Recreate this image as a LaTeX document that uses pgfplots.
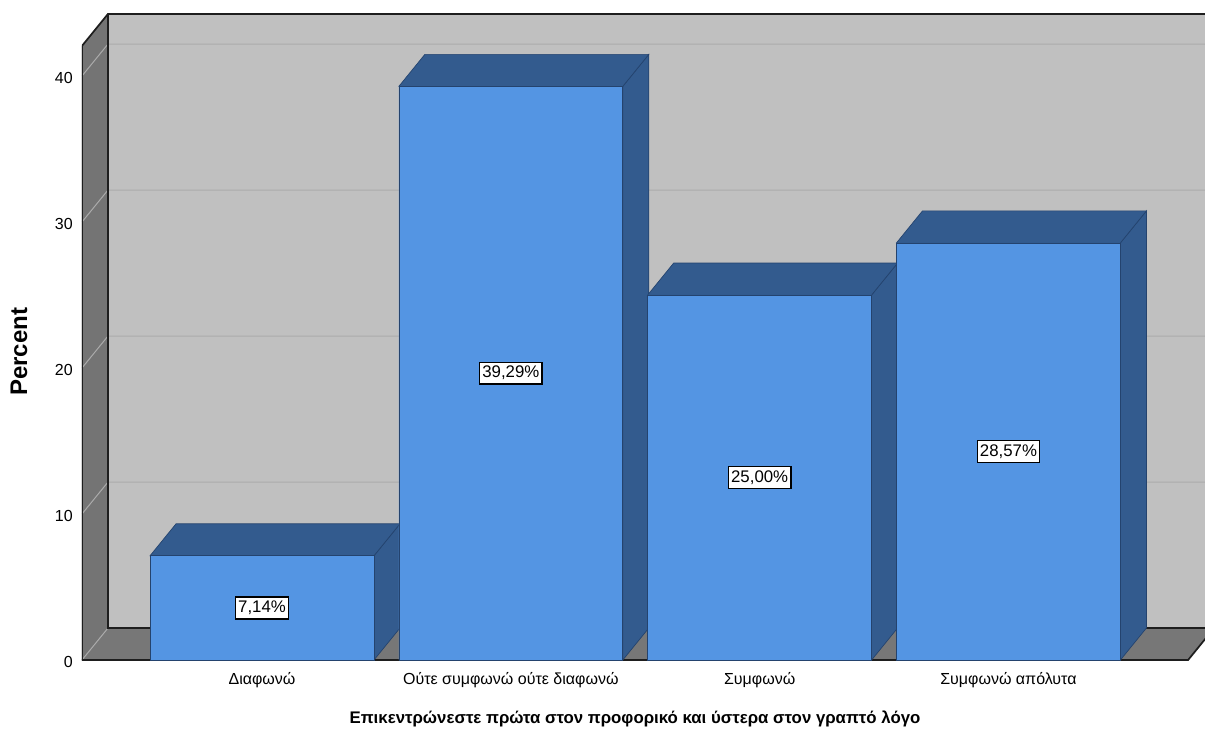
\documentclass[border=0pt]{standalone}
\usepackage{pgfplots}
\pgfplotsset{compat=1.18}
\usepackage{fontspec}
\setmainfont{Liberation Sans}
\definecolor{backwall}{HTML}{C0C0C0}
\definecolor{sidewall}{HTML}{747474}
\definecolor{floorc}{HTML}{777777}
\definecolor{barfront}{HTML}{5495E3}
\definecolor{bardark}{HTML}{335B8E}
\definecolor{baredge}{HTML}{24436E}
\definecolor{gridc}{HTML}{ABABAB}
\definecolor{edgec}{HTML}{1E1E1E}
\begin{document}
\begin{tikzpicture}
\begin{axis}[
  scale only axis,
  width=842.25pt, height=495pt,
  xmin=0.2765, xmax=4.790,
  ymin=0, ymax=45.205,
  axis lines*=left,
  axis line style={draw=none},
  tick style={draw=none},
  /pgf/number format/assume math mode=true,
  xtick={1,2,3,4},
  xticklabels={Διαφωνώ, Ούτε συμφωνώ ούτε διαφωνώ, Συμφωνώ, Συμφωνώ απόλυτα},
  ytick={0,10,20,30,40},
  xticklabel style={anchor=base, inner sep=0pt, yshift=-18pt, font=\fontsize{12}{14}\selectfont},
  yticklabel style={anchor=east, inner sep=0pt, xshift=-6.75pt, yshift=-1.5pt, font=\fontsize{12}{14}\selectfont},
  ylabel={Percent},
  every axis y label/.style={at={(axis description cs:-0.0561,0.4667)}, anchor=center, rotate=90, font=\fontsize{18}{20}\selectfont\bfseries},
  xlabel={Επικεντρώνεστε πρώτα στον προφορικό και ύστερα στον γραπτό λόγο},
  every axis x label/.style={at={(axis description cs:0.4924,-0.0955)}, anchor=base, font=\fontsize{12.6}{14}\selectfont\bfseries},
]
\coordinate (O) at (axis cs:0.2765,0);
% walls and floor
\addplot[fill=backwall, draw=none] coordinates {(0.381,2.19) (4.95,2.19) (4.95,44.25) (0.381,44.25)} -- cycle;
\addplot[fill=floorc, draw=none] coordinates {(0.2765,0) (4.722,0) (4.8265,2.19) (0.381,2.19)} -- cycle;
\addplot[fill=sidewall, draw=none] coordinates {(0.2765,0) (0.381,2.19) (0.381,44.25) (0.2765,42.06)} -- cycle;
% grid lines
\addplot[gridc, line width=0.75pt] coordinates {(0.2765,0) (0.381,2.19)};
\addplot[gridc, line width=0.75pt] coordinates {(0.2765,10) (0.381,12.19) (4.95,12.19)};
\addplot[gridc, line width=0.75pt] coordinates {(0.2765,20) (0.381,22.19) (4.95,22.19)};
\addplot[gridc, line width=0.75pt] coordinates {(0.2765,30) (0.381,32.19) (4.95,32.19)};
\addplot[gridc, line width=0.75pt] coordinates {(0.2765,40) (0.381,42.19) (4.95,42.19)};
% edges
\addplot[edgec, line width=1.3pt] coordinates {(0.2765,0) (0.2765,42.06) (0.381,44.25) (4.95,44.25)};
\addplot[edgec, line width=1.3pt] coordinates {(0.381,44.25) (0.381,2.19) (4.95,2.19)};
\addplot[edgec, line width=1.3pt] coordinates {(0.2765,0) (4.722,0) (4.8265,2.19)};
% bar sides and tops
\addplot[fill=bardark, draw=baredge, line width=0.5pt] coordinates {(1.45,0) (1.5545,2.19) (1.5545,9.33) (1.45,7.14)} -- cycle;
\addplot[fill=bardark, draw=baredge, line width=0.5pt] coordinates {(0.55,7.14) (0.6545,9.33) (1.5545,9.33) (1.45,7.14)} -- cycle;
\addplot[fill=bardark, draw=baredge, line width=0.5pt] coordinates {(2.45,0) (2.5545,2.19) (2.5545,41.48) (2.45,39.29)} -- cycle;
\addplot[fill=bardark, draw=baredge, line width=0.5pt] coordinates {(1.55,39.29) (1.6545,41.48) (2.5545,41.48) (2.45,39.29)} -- cycle;
\addplot[fill=bardark, draw=baredge, line width=0.5pt] coordinates {(3.45,0) (3.5545,2.19) (3.5545,27.19) (3.45,25.00)} -- cycle;
\addplot[fill=bardark, draw=baredge, line width=0.5pt] coordinates {(2.55,25.00) (2.6545,27.19) (3.5545,27.19) (3.45,25.00)} -- cycle;
\addplot[fill=bardark, draw=baredge, line width=0.5pt] coordinates {(4.45,0) (4.5545,2.19) (4.5545,30.76) (4.45,28.57)} -- cycle;
\addplot[fill=bardark, draw=baredge, line width=0.5pt] coordinates {(3.55,28.57) (3.6545,30.76) (4.5545,30.76) (4.45,28.57)} -- cycle;
% bar fronts
\addplot[ybar, bar width=0.9, fill=barfront, draw=baredge, line width=0.5pt] coordinates {(1,7.14) (2,39.29) (3,25.00) (4,28.57)};
% value labels
\addplot[draw=none, mark=none, nodes near coords, point meta=explicit symbolic,
  every node near coord/.style={anchor=center, draw=black, fill=white, line width=1.1pt, inner xsep=2pt, inner ysep=3pt, font=\fontsize{12.6}{14}\selectfont}]
  coordinates {(1,3.57) [7,14\%] (2,19.645) [39,29\%] (3,12.5) [25,00\%] (4,14.285) [28,57\%]};
\end{axis}
\pgfresetboundingbox
\path (O) ++(-61.5pt,-51pt) rectangle ++(903.75pt,546pt);
\end{tikzpicture}
\end{document}
